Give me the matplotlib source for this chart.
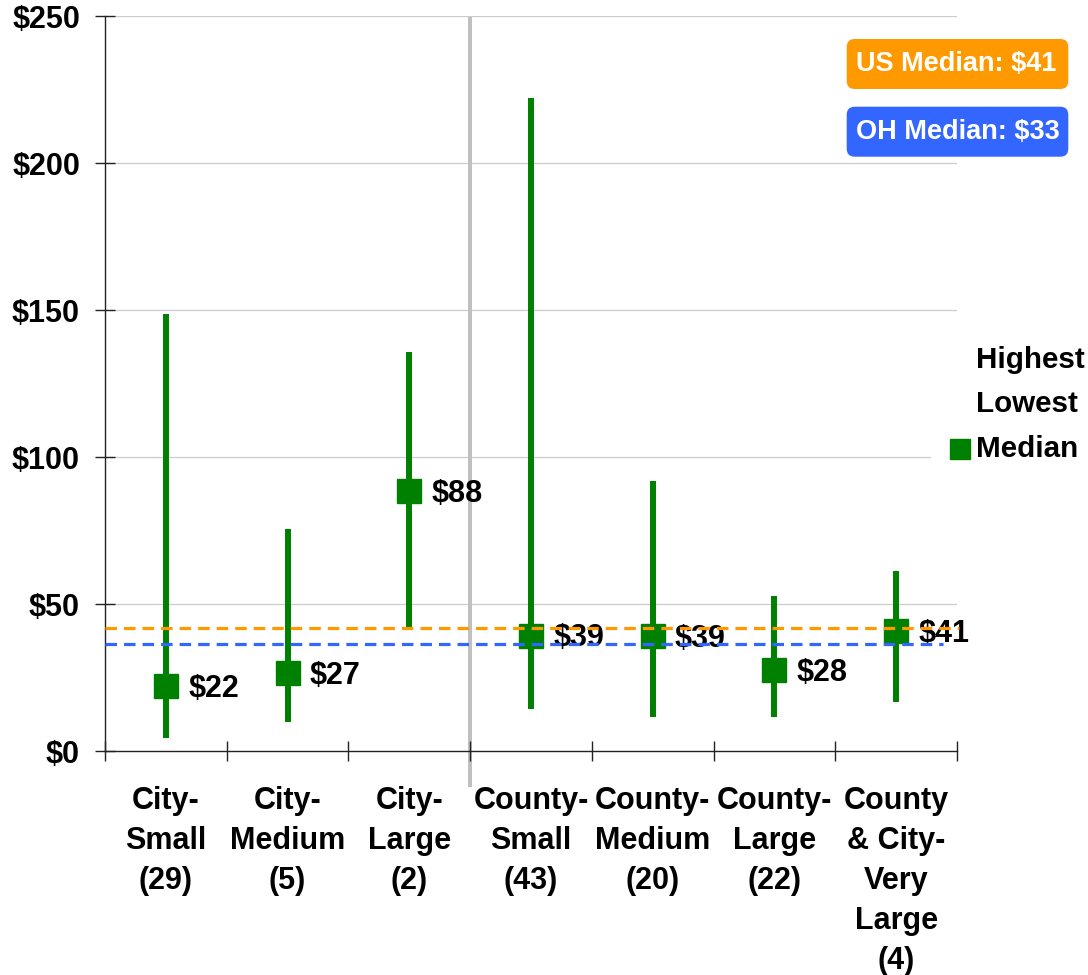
import matplotlib
matplotlib.use("Agg")
import matplotlib.pyplot as plt
from matplotlib.patches import FancyBboxPatch, Rectangle
from matplotlib.lines import Line2D

plt.rcParams['font.family'] = ['Liberation Sans', 'DejaVu Sans']
plt.rcParams['font.weight'] = 'bold'

# ---- data ----
categories = ["City-\nSmall\n(29)", "City-\nMedium\n(5)", "City-\nLarge\n(2)",
              "County-\nSmall\n(43)", "County-\nMedium\n(20)", "County-\nLarge\n(22)",
              "County\n& City-\nVery\nLarge\n(4)"]
highest = [148.7, 75.6, 135.7, 222.3, 91.8, 52.9, 61.4]
lowest = [4.3, 9.8, 41.6, 14.3, 11.4, 11.4, 16.6]
median = [22, 26.5, 88.4, 39.3, 39, 27.6, 40.9]
median_labels = ["$22", "$27", "$88", "$39", "$39", "$28", "$41"]
yticks = [0, 50, 100, 150, 200, 250]
ytick_labels = ["$0", "$50", "$100", "$150", "$200", "$250"]
us_line = 41.8
oh_line = 36.5
us_label = "US Median: $41"
oh_label = "OH Median: $33"
legend_labels = ["Highest", "Lowest", "Median"]

GREEN = "#008000"
ORANGE = "#FF9900"
BLUE = "#3366FF"
FS = 22

fig = plt.figure(figsize=(10.88, 9.75), dpi=100)
ax = fig.add_axes([105/1088, 224/975, 852/1088, 734.7/975])

n = len(categories)
xs = list(range(n))
ax.set_xlim(-0.5, n - 0.5)
ax.set_ylim(0, 250)

# grid
for y in yticks[1:]:
    ax.axhline(y, color="#CCCCCC", lw=0.9, zorder=1)

# separator
ax.axvline(2.5, ymin=-0.046, ymax=0.997, color="#C0C0C0", lw=2.9, zorder=1.5,
           clip_on=False)

# ranges
ax.vlines(xs, lowest, highest, color=GREEN, lw=4.3, zorder=3)
ax.plot(xs, median, ls="none", marker="s", ms=17.3, color=GREEN,
        markeredgecolor=GREEN, zorder=4)
for x, m, lab in zip(xs, median, median_labels):
    ax.annotate(lab, (x, m), xytext=(16, -2), textcoords="offset points",
                ha="left", va="center", fontsize=FS, fontweight="bold",
                color="black", zorder=5)

# reference lines (drawn on top)
ax.axhline(us_line, xmin=0, xmax=1.002, color=ORANGE, lw=2.3, dashes=(3.6, 2.2),
           zorder=6, clip_on=False)
ax.axhline(oh_line, xmin=0, xmax=0.984, color=BLUE, lw=2.3, dashes=(3.6, 2.2),
           zorder=6, clip_on=False)

# axes styling
for s in ["top", "right"]:
    ax.spines[s].set_visible(False)
ax.spines["left"].set_color("#222222")
ax.spines["bottom"].set_color("#222222")
ax.spines["left"].set_linewidth(1.0)
ax.spines["bottom"].set_linewidth(1.0)

ax.set_yticks(yticks)
ax.set_yticklabels(ytick_labels, fontsize=FS, fontweight="bold")
ax.tick_params(axis="y", direction="inout", length=15, width=1.0, pad=10.5,
               color="#222222")

ax.set_xticks([i - 0.5 for i in range(n + 1)])
ax.set_xticklabels([])
ax.tick_params(axis="x", which="major", direction="inout", length=14.4,
               width=1.0, color="#222222")
ax.set_xticks(xs, minor=True)
ax.set_xticklabels(categories, minor=True, fontsize=FS, fontweight="bold",
                   linespacing=1.44, va="top", ha="center")
ax.tick_params(axis="x", which="minor", length=0, pad=25)

# median boxes
for label, col, ytop in [(us_label, ORANGE, 39), (oh_label, BLUE, 106.7)]:
    box = FancyBboxPatch((846.7/100, (975 - ytop - 50)/100), 2.216, 0.50,
                         boxstyle="round,pad=0,rounding_size=0.08",
                         transform=fig.dpi_scale_trans, fc=col, ec="none",
                         zorder=10)
    fig.patches.append(box)
    fig.text(856/1088, 1 - (ytop + 25.5)/975, label, ha="left", va="center",
             fontsize=19.5, fontweight="bold", color="white", zorder=11)

# legend
fig.patches.append(Rectangle((931/1088, 1 - 472/975), 157/1088, 135/975,
                             transform=fig.transFigure, fc="white", ec="none",
                             zorder=8))
leg_y = [360, 404, 449]
for lab, yy in zip(legend_labels, leg_y):
    fig.text(976.5/1088, 1 - yy/975, lab, ha="left", va="center",
             fontsize=FS * 0.97, fontweight="bold", color="black", zorder=9)
fig.lines.append(Line2D([960/1088], [1 - leg_y[2]/975], marker="s", ms=14.4,
                        color=GREEN, ls="none", transform=fig.transFigure,
                        zorder=9))

fig.savefig("out.png", dpi=100, facecolor="white")
